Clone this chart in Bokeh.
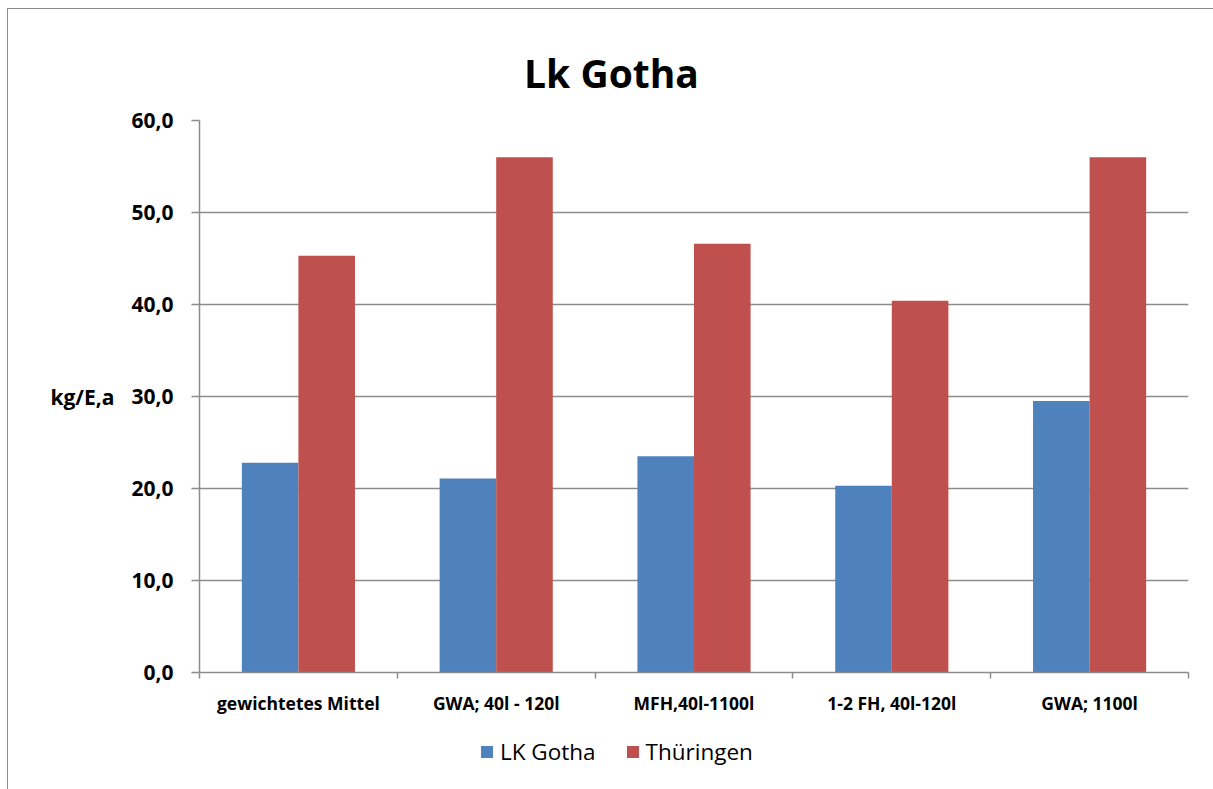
import numpy as np
from bokeh.plotting import figure
from bokeh.layouts import column
from bokeh.models import (ColumnDataSource, FixedTicker, Range1d, Legend, LegendItem, Label)
from bokeh.transform import dodge
from bokeh.embed import file_html
from bokeh.resources import INLINE

# ---- data ----
categories = ["gewichtetes Mittel", "GWA; 40l - 120l", "MFH,40l-1100l", "1-2 FH, 40l-120l", "GWA; 1100l"]
lk_gotha = [22.8, 21.1, 23.5, 20.3, 29.5]
thueringen = [45.3, 56.0, 46.6, 40.4, 56.0]
y_ticks = [0, 10, 20, 30, 40, 50, 60]
y_tick_labels = ["0,0", "10,0", "20,0", "30,0", "40,0", "50,0", "60,0"]
series_names = ["LK Gotha", "Thüringen"]
title_text = "Lk Gotha"
y_label = "kg/E,a"

FONT = "Open Sans"
BLUE = "#4F81BD"
RED = "#C0504D"
GRAY = "#8c8c8c"

centers = [i + 0.5 for i in range(len(categories))]
src = ColumnDataSource(dict(x=centers, lk=lk_gotha, th=thueringen))
bw = 0.286

# ---- title strip ----
pt = figure(width=1205, height=90, output_backend="svg", toolbar_location=None,
            x_range=Range1d(0, len(categories)), y_range=Range1d(0, 1),
            x_axis_location=None, y_axis_location=None,
            min_border_left=0, min_border_right=0, min_border_top=0, min_border_bottom=0)
pt.outline_line_color = None
pt.grid.visible = False
pt.add_layout(Label(x=412, y=27, x_units="screen", y_units="screen", text=title_text,
                    text_font=FONT, text_font_size="39px", text_font_style="bold",
                    text_align="center", text_baseline="alphabetic", text_color="black"))

# ---- main chart ----
p = figure(width=1205, height=635, output_backend="svg", toolbar_location=None,
           x_range=Range1d(0, len(categories)), y_range=Range1d(0, 60),
           min_border_left=191, min_border_right=25, min_border_top=21, min_border_bottom=62)
p.outline_line_color = None

r1 = p.vbar(x=dodge("x", -bw / 2, range=p.x_range), top="lk", width=bw, source=src,
            fill_color=BLUE, line_color=None)
r2 = p.vbar(x=dodge("x", bw / 2, range=p.x_range), top="th", width=bw, source=src,
            fill_color=RED, line_color=None)

xa = p.xaxis[0]
xa.ticker = FixedTicker(ticks=centers, minor_ticks=list(range(len(categories) + 1)))
xa.major_label_overrides = {c: lab for c, lab in zip(centers, categories)}
xa.major_tick_out = 0
xa.major_tick_in = 0
xa.minor_tick_out = 6
xa.minor_tick_in = 0
xa.minor_tick_line_color = GRAY
xa.minor_tick_line_width = 1.5
xa.axis_line_color = GRAY
xa.axis_line_width = 1.5
xa.major_label_text_font = FONT
xa.major_label_text_font_style = "bold"
xa.major_label_text_font_size = "17.5px"
xa.major_label_text_color = "black"
xa.major_label_standoff = 12

ya = p.yaxis[0]
ya.ticker = FixedTicker(ticks=y_ticks)
ya.major_label_overrides = {v: s for v, s in zip(y_ticks, y_tick_labels)}
ya.minor_tick_out = 0
ya.minor_tick_in = 0
ya.major_tick_out = 8
ya.major_tick_in = 0
ya.major_tick_line_color = GRAY
ya.major_tick_line_width = 1.5
ya.axis_line_color = GRAY
ya.axis_line_width = 1.5
ya.major_label_text_font = FONT
ya.major_label_text_font_style = "bold"
ya.major_label_text_font_size = "21px"
ya.major_label_text_color = "black"
ya.major_label_standoff = 18
ya.axis_label = y_label
ya.axis_label_orientation = "horizontal"
ya.axis_label_text_font = FONT
ya.axis_label_text_font_style = "bold"
ya.axis_label_text_font_size = "21px"
ya.axis_label_text_color = "black"
ya.axis_label_standoff = 14

p.xgrid.grid_line_color = None
p.ygrid.grid_line_color = GRAY
p.ygrid.grid_line_width = 1.5

# ---- legend strip (bars lie below its range; only the legend shows) ----
pl = figure(width=1205, height=55, output_backend="svg", toolbar_location=None,
            x_range=Range1d(0, len(categories)), y_range=Range1d(1000, 1001),
            x_axis_location=None, y_axis_location=None,
            min_border_left=0, min_border_right=0, min_border_top=0, min_border_bottom=0)
pl.outline_line_color = None
pl.grid.visible = False
l1 = pl.vbar(x=dodge("x", -bw / 2, range=pl.x_range), top="lk", width=bw, source=src,
             fill_color=BLUE, line_color=None)
l2 = pl.vbar(x=dodge("x", bw / 2, range=pl.x_range), top="th", width=bw, source=src,
             fill_color=RED, line_color=None)

legend = Legend(items=[LegendItem(label=series_names[0], renderers=[l1]),
                       LegendItem(label=series_names[1], renderers=[l2])],
                orientation="horizontal", location=(280, 22),
                padding=0, margin=0, spacing=29, label_standoff=6,
                glyph_width=15, glyph_height=15,
                label_text_font=FONT, label_text_font_size="22.5px", label_text_color="black",
                border_line_alpha=0, background_fill_alpha=0)
pl.add_layout(legend, "center")

layout = column(pt, p, pl, spacing=0,
                styles={"margin-left": "7px", "margin-top": "8px",
                        "border-left": "1px solid #8c8c8c", "border-top": "1px solid #8c8c8c"})

open("out.html", "w").write(file_html(layout, INLINE))
